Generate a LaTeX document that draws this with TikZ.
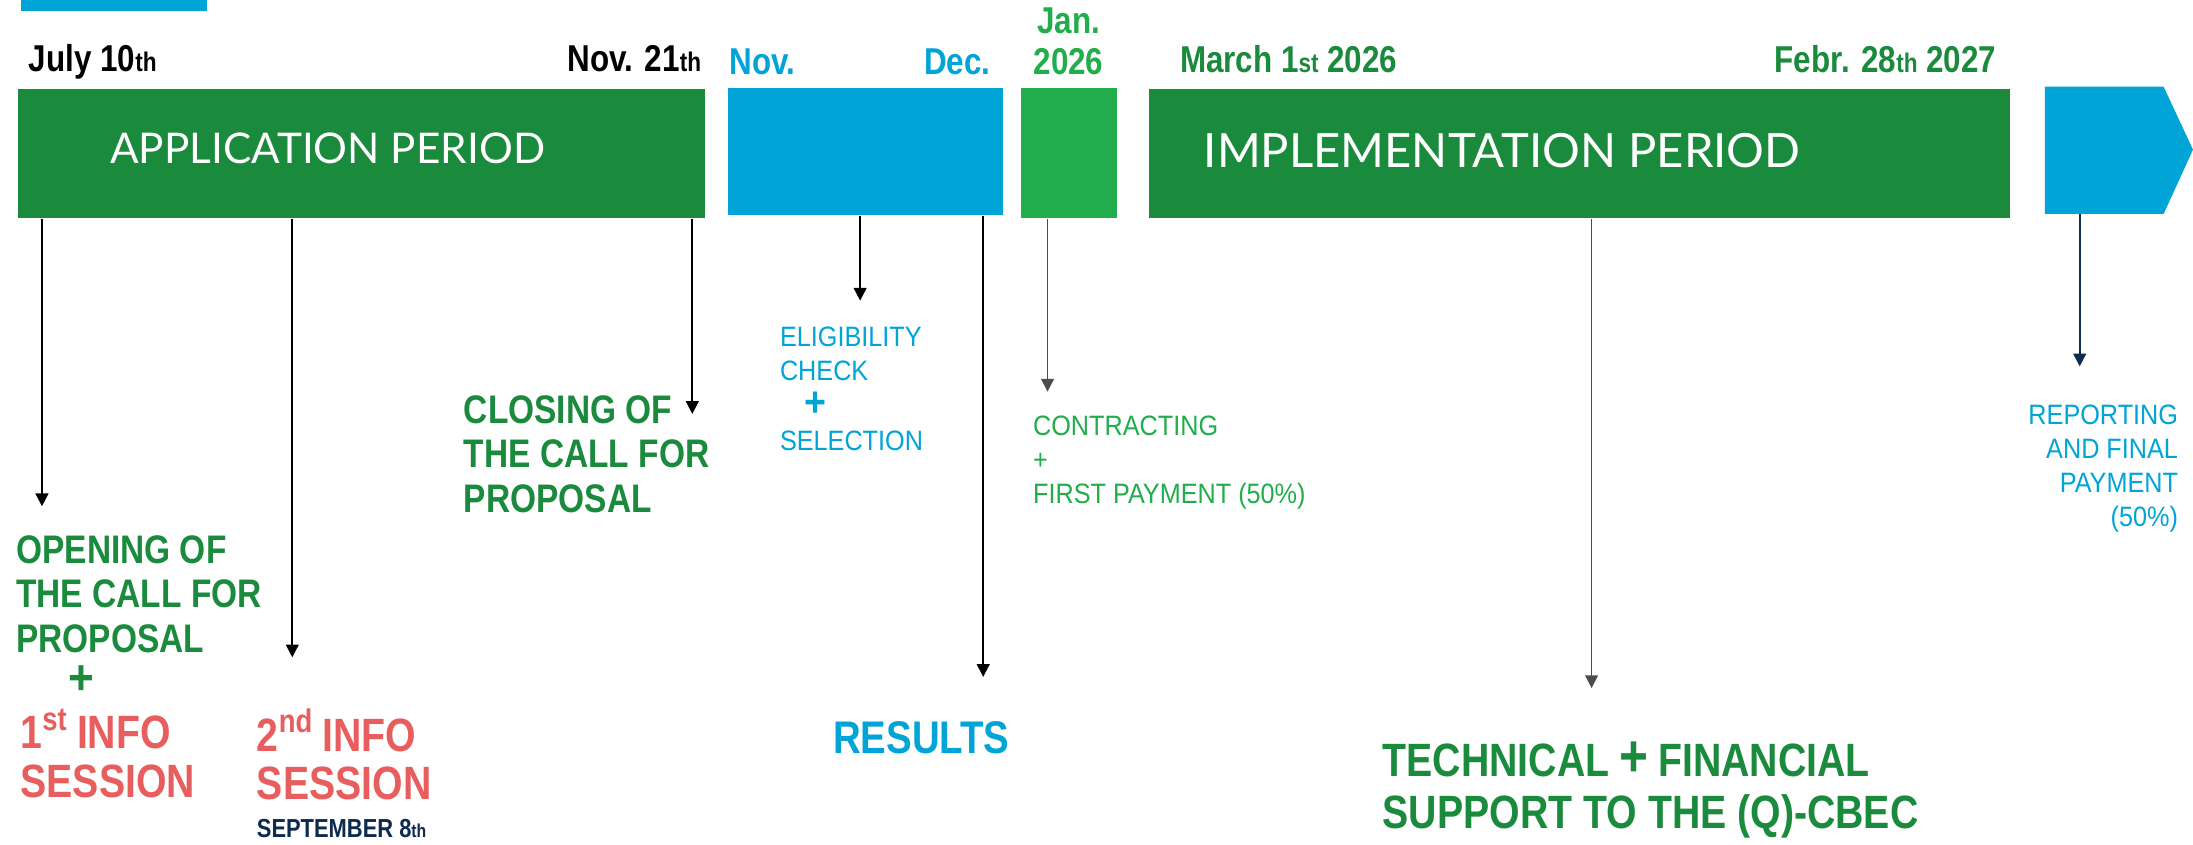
\documentclass[tikz,border=0pt]{standalone}
\usepackage{fontspec}
\usepackage{graphicx}
\setmainfont[FakeStretch=0.9]{Liberation Sans}
\newfontfamily\labfont[FakeStretch=0.84]{Liberation Sans}
\newfontfamily\datefont[FakeStretch=0.84]{Liberation Sans}
\newfontfamily\barfont{Lato}
\usetikzlibrary{arrows.meta,positioning}

\definecolor{dgreen}{HTML}{1A8A3C}
\definecolor{lgreen}{HTML}{21AD4B}
\definecolor{cblue}{HTML}{00A4D6}
\definecolor{cred}{HTML}{E85D5D}
\definecolor{navy}{HTML}{0D2A4F}

% small ordinal on the baseline
\newcommand{\ord}[1]{\scalebox{0.72}{#1}}

\begin{document}
\begin{tikzpicture}[
  x=0.01cm, y=-0.01cm,
  bar/.style={rectangle, inner sep=0pt, anchor=north west},
  barlab/.style={font=\barfont\fontsize{8.6}{9}\selectfont, text=white, inner sep=0pt, anchor=base west},
  date/.style={font=\datefont\bfseries\fontsize{7.6}{8}\selectfont, inner sep=0pt},
  big/.style={font=\labfont\bfseries\fontsize{8.1}{9.1}\selectfont, align=left, inner sep=0pt, anchor=north west},
  small/.style={font=\fontsize{5.7}{6.9}\selectfont, align=left, inner sep=0pt, anchor=north west},
  arr/.style={-{Triangle[length=2.6pt,width=2.6pt]}, line width=0.35pt}
]
\useasboundingbox (0,0) rectangle (1568,604);

% bars
\fill[cblue] (15,0) rectangle (148,8);
\node[bar, fill=dgreen, minimum width=4.91cm, minimum height=0.92cm] (appbar) at (12,63) {};
\node[bar, fill=cblue, minimum width=1.96cm, minimum height=0.91cm] (evalbar) at (520,62) {};
\node[bar, fill=lgreen, minimum width=0.69cm, minimum height=0.93cm] (janbar) at (729,62) {};
\node[bar, fill=dgreen, minimum width=6.15cm, minimum height=0.92cm] (implbar) at (821,63) {};
\fill[cblue] (1462,62) -- (1547,62) -- (1568,107) -- (1547,153) -- (1462,153) -- cycle;
\coordinate (repbar) at (1462,153);

\node[barlab] (applbl) at (78,117) {APPLICATION PERIOD};
\node[barlab, font=\barfont\fontsize{9.6}{10}\selectfont] (impllbl) at (860,120) {IMPLEMENTATION PERIOD};

% dates
\node[date, anchor=base west] (d1) at (20,51) {July 10\ord{th}};
\node[date, anchor=base east] (d2) at (502,51) {Nov. 21\ord{th}};
\node[date, anchor=base west, text=cblue] (d3) at (521,53) {Nov.};
\node[date, anchor=base east, text=cblue] (d4) at (709,53) {Dec.};
\node[date, anchor=base, text=lgreen] (d5a) at (764,24) {Jan.};
\node[date, anchor=base, text=lgreen] (d5b) at (764,53) {2026};
\node[date, anchor=base west, text=dgreen] (d6) at (843,52) {March 1\ord{st} 2026};
\node[date, anchor=base east, text=dgreen] (d7) at (1428,52) {Febr. 28\ord{th} 2027};

% milestones
\node[big, text=dgreen] (open) at (11,382) {OPENING OF\\THE CALL FOR\\PROPOSAL};
\node[font=\bfseries\fontsize{10}{10}\selectfont, text=dgreen, inner sep=0pt] (plus1) at (58,486) {+};
\node[big, text=cred, font=\labfont\bfseries\fontsize{9.5}{9.8}\selectfont] (info1) at (14,506) {1\textsuperscript{st}\,INFO\\SESSION};
\node[big, text=cred, font=\labfont\bfseries\fontsize{9.5}{9.8}\selectfont] (info2) at (183,506) {2\textsuperscript{nd}\,INFO\\SESSION};
\node[big, text=navy, font=\labfont\bfseries\fontsize{5.3}{6}\selectfont, anchor=base west] (sept) at (183,599) {SEPTEMBER 8\ord{th}};
\node[big, text=dgreen] (close) at (331,282) {CLOSING OF\\THE CALL FOR\\PROPOSAL};
\node[small, text=cblue] (elig) at (557,233) {ELIGIBILITY\\CHECK\\[0.5pt]\hspace{5pt}{\bfseries\fontsize{8.5}{8.5}\selectfont +}\\[0pt]SELECTION};
\node[big, text=cblue, font=\labfont\bfseries\fontsize{9.3}{9.5}\selectfont] (results) at (595,515) {RESULTS};
\node[small, text=lgreen] (contr) at (738,297) {CONTRACTING\\+\\FIRST PAYMENT (50\%)};
\node[big, text=dgreen, font=\labfont\bfseries\fontsize{9.5}{10.5}\selectfont] (support) at (988,530) {TECHNICAL{\fontsize{12}{12}\selectfont\,+\,}FINANCIAL\\SUPPORT TO THE (Q)-CBEC};
\node[small, text=cblue, align=right, anchor=north east] (report) at (1558,289) {REPORTING\\AND FINAL\\PAYMENT\\(50\%)};

% arrow tips
\coordinate (t1) at (30,362);
\coordinate (t2) at (209,470);
\coordinate (t3) at (495,296);
\coordinate (t4) at (615,215);
\coordinate (t5) at (703,484);
\coordinate (t6) at (749,280);
\coordinate (t7) at (1138,492);
\coordinate (t8) at (1487,262);

\draw[arr] (appbar.south -| t1) -- (t1);
\draw[arr] (appbar.south -| t2) -- (t2);
\draw[arr] (appbar.south -| t3) -- (t3);
\draw[arr] (evalbar.south -| t4) -- (t4);
\draw[arr] (evalbar.south -| t5) -- (t5);
\draw[arr, draw=black!70] (janbar.south -| t6) -- (t6);
\draw[arr, draw=black!70] (implbar.south -| t7) -- (t7);
\draw[arr, draw=navy, fill=navy] (repbar -| t8) -- (t8);
\end{tikzpicture}
\end{document}
